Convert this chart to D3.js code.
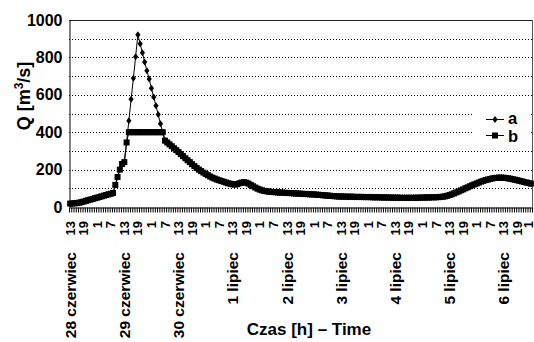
<!DOCTYPE html>
<html>
<head>
<meta charset="utf-8">
<script src="https://cdn.jsdelivr.net/npm/d3@7"></script>
<style>
  body { margin: 0; background: #fff; }
  svg text { font-family: "Liberation Sans", Arial, sans-serif; font-weight: bold; fill: #000; }
</style>
</head>
<body>
<div id="chart"></div>
<script>
// hourly discharge, 28 czerwiec 13h .. 7 lipiec 1h
var seriesB = [
  18,19,20,21,23,26,29,33,36,40,43,47,50,54,57,61,64,68,71,75,118,160,200,230,
  240,345,400,400,400,400,400,400,400,400,400,400,400,400,400,400,400,400,355,345,335,325,314,304,
  294,283,272,261,250,240,229,219,209,200,192,184,177,170,163,157,152,147,143,139,135,131,127,124,
  121,120,122,127,131,132,130,125,118,111,104,98,93,89,86,84,82,81,80,79,78,77,77,76,
  75,75,74,73,72,72,71,70,70,69,68,68,67,66,65,64,63,62,61,60,59,58,57,56,
  56,56,55,55,55,55,54,54,54,54,53,53,53,53,52,52,52,52,51,51,51,51,50,50,
  50,50,49,49,49,49,49,49,49,49,50,50,50,51,51,51,52,52,52,53,54,55,57,60,
  64,68,73,78,83,89,94,100,105,111,116,121,126,131,136,140,144,147,150,153,155,156,157,157,
  156,155,153,151,148,146,143,140,137,134,131,128,125
];
var seriesA = [
  18,19,20,21,23,26,29,33,36,40,43,47,50,54,57,61,64,68,71,75,118,160,200,230,
  240,345,461,576,688,804,921,873,825,775,729,684,635,588,542,494,445,400,355,345,335,325,314,304,
  294,283,272,261,250,240,229,219,209,200,192,184,177,170,163,157,152,147,143,139,135,131,127,124,
  121,120,122,127,131,132,130,125,118,111,104,98,93,89,86,84,82,81,80,79,78,77,77,76,
  75,75,74,73,72,72,71,70,70,69,68,68,67,66,65,64,63,62,61,60,59,58,57,56,
  56,56,55,55,55,55,54,54,54,54,53,53,53,53,52,52,52,52,51,51,51,51,50,50,
  50,50,49,49,49,49,49,49,49,49,50,50,50,51,51,51,52,52,52,53,54,55,57,60,
  64,68,73,78,83,89,94,100,105,111,116,121,126,131,136,140,144,147,150,153,155,156,157,157,
  156,155,153,151,148,146,143,140,137,134,131,128,125
];
var hourLabels = ["13","19","1","7","13","19","1","7","13","19","1","7","13","19","1","7",
  "13","19","1","7","13","19","1","7","13","19","1","7","13","19","1","7","13","19","1"];
var dayLabels = ["28 czerwiec","29 czerwiec","30 czerwiec","1 lipiec","2 lipiec",
  "3 lipiec","4 lipiec","5 lipiec","6 lipiec"];
var yTicks = [0,200,400,600,800,1000];
var yGrid = [100,200,300,400,500,600,700,800,900];

function drawChart() {
    var width = 534, height = 342;
    var pLeft = 69, pRight = 532, pTop = 20, pBottom = 207;
    var n = seriesB.length;

    var svg = d3.select("#chart").append("svg")
        .attr("width", width)
        .attr("height", height);

    var x = d3.scaleLinear().domain([0, n]).range([pLeft, pRight]);
    var y = d3.scaleLinear().domain([0, 1000]).range([pBottom, pTop]);

    // dotted gridlines
    svg.append("g").selectAll("line")
        .data(yGrid)
        .enter().append("line")
        .attr("x1", pLeft).attr("x2", pRight)
        .attr("y1", function(d) { return Math.round(y(d)) + 0.5; })
        .attr("y2", function(d) { return Math.round(y(d)) + 0.5; })
        .style("stroke", "#000")
        .style("stroke-width", 1)
        .style("stroke-dasharray", "1,2");

    // plot border top/right
    svg.append("line").attr("x1", pLeft).attr("x2", pRight + 0.5)
        .attr("y1", pTop + 0.5).attr("y2", pTop + 0.5)
        .style("stroke", "#222");
    svg.append("line").attr("x1", pRight + 0.5).attr("x2", pRight + 0.5)
        .attr("y1", pTop).attr("y2", pBottom)
        .style("stroke", "#555");

    // y axis
    var yAxis = svg.append("g")
        .attr("transform", "translate(" + (pLeft + 0.5) + ",0)")
        .call(d3.axisLeft(y).tickValues(yTicks).tickFormat(d3.format("d")).tickSize(0).tickPadding(7));
    yAxis.select(".domain").style("stroke", "#000");
    yAxis.selectAll("text").style("font-size", "16px").attr("font-family", null);

    // x axis with hourly tick marks
    var xAxis = svg.append("g")
        .attr("transform", "translate(0," + (pBottom + 0.5) + ")")
        .call(d3.axisBottom(x).tickValues(d3.range(n + 1)).tickFormat("").tickSize(5).tickSizeOuter(0));
    xAxis.select(".domain").style("stroke", "#000");
    xAxis.selectAll(".tick line").style("stroke", "#000");

    // hour labels every 6th category
    svg.append("g").selectAll("text")
        .data(hourLabels)
        .enter().append("text")
        .attr("transform", function(d, i) { return "translate(" + Math.min(x(i * 6 + 0.5), 528) + ",221)rotate(-90)"; })
        .attr("text-anchor", "end")
        .attr("dy", "0.35em")
        .style("font-size", "13px")
        .text(function(d) { return d; });

    // day labels
    svg.append("g").selectAll("text")
        .data(dayLabels)
        .enter().append("text")
        .attr("transform", function(d, i) { return "translate(" + x(i * 24 + 0.5) + ",252)rotate(-90)"; })
        .attr("text-anchor", "end")
        .attr("dy", "0.36em")
        .style("font-size", "15.5px")
        .text(function(d) { return d; });

    // series
    var line = d3.line()
        .x(function(d, i) { return x(i + 0.5); })
        .y(function(d) { return y(d); });

    var diamond = "M0,-3.5L2.6,0L0,3.5L-2.6,0Z";

    svg.append("path").datum(seriesA)
        .attr("d", line)
        .attr("fill", "none")
        .style("stroke", "#000")
        .style("stroke-width", 1);
    svg.append("g").selectAll("path")
        .data(seriesA)
        .enter().append("path")
        .attr("d", diamond)
        .attr("transform", function(d, i) { return "translate(" + x(i + 0.5) + "," + y(d) + ")"; })
        .attr("fill", "#000");

    svg.append("path").datum(seriesB)
        .attr("d", line)
        .attr("fill", "none")
        .style("stroke", "#000")
        .style("stroke-width", 1);
    svg.append("g").selectAll("rect")
        .data(seriesB)
        .enter().append("rect")
        .attr("x", function(d, i) { return x(i + 0.5) - 3; })
        .attr("y", function(d) { return y(d) - 3; })
        .attr("width", 6).attr("height", 6)
        .attr("fill", "#000");

    // legend
    var lg = svg.append("g");
    lg.append("rect").attr("x", 473).attr("y", 112).attr("width", 58).attr("height", 35).attr("fill", "#fff");
    lg.append("line").attr("x1", 486).attr("x2", 504).attr("y1", 119.5).attr("y2", 119.5).style("stroke", "#000");
    lg.append("path").attr("d", diamond).attr("transform", "translate(495,119.5)").attr("fill", "#000");
    lg.append("text").attr("x", 508).attr("y", 124).style("font-size", "16.5px").text("a");
    lg.append("line").attr("x1", 486).attr("x2", 504).attr("y1", 135.5).attr("y2", 135.5).style("stroke", "#000");
    lg.append("rect").attr("x", 492).attr("y", 132.5).attr("width", 6).attr("height", 6).attr("fill", "#000");
    lg.append("text").attr("x", 508).attr("y", 142).style("font-size", "16.5px").text("b");

    // axis titles
    svg.append("text")
        .attr("transform", "translate(30,96)rotate(-90)")
        .attr("text-anchor", "middle")
        .style("font-size", "18px")
        .html('Q [m<tspan dy="-7" font-size="12px">3</tspan><tspan dy="7">/s]</tspan>');

    svg.append("text")
        .attr("x", 309).attr("y", 335)
        .attr("text-anchor", "middle")
        .style("font-size", "17px")
        .text("Czas [h] \u2013 Time");
}
drawChart();
</script>
</body>
</html>
